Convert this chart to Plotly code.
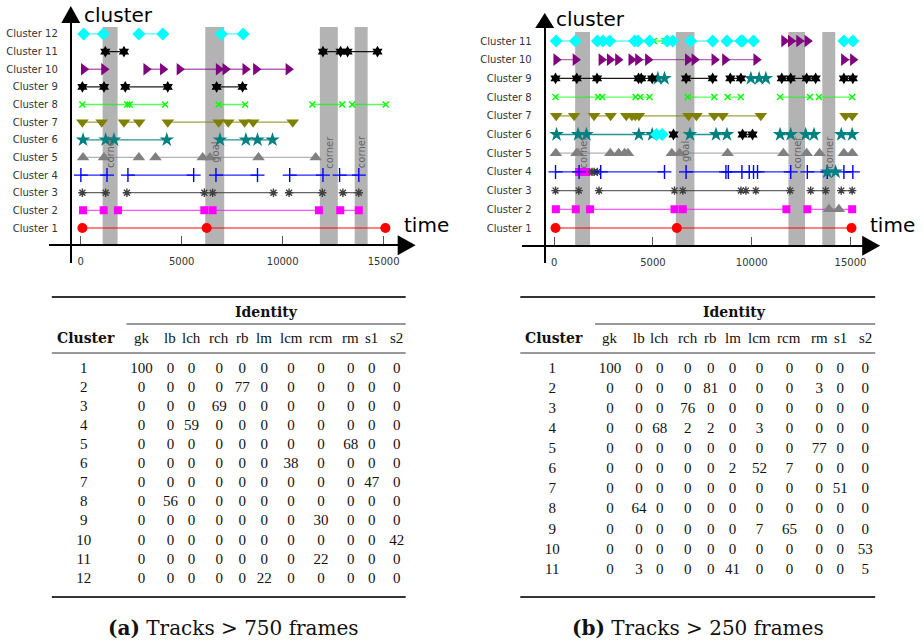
import plotly.graph_objects as go

W, H = 924, 644

# ------------------------------------------------------------------ data
X_TICKS = [0, 5000, 10000, 15000]
X_TICK_TEXT = ["0", "5000", "10000", "15000"]
CLUSTER_LABELS_A = [f"Cluster {i}" for i in range(1, 13)]
CLUSTER_LABELS_B = [f"Cluster {i}" for i in range(1, 12)]

EVENT_LABELS = ["corner", "goal", "corner", "corner"]
EVENTS_A = [(1085, 1825), (6167, 7104), (11840, 12730), (13566, 14207)]
EVENTS_B = [(1060, 1816), (6155, 7098), (11856, 12698), (13571, 14227)]

# (a) tracks > 750 frames : (identity, frames of the track's samples)
A_C1 = [("gk", [82, 6236, 15087])]
A_C2 = [("rb", [115, 1135]), ("rb", [1842, 6121]), ("rb", [6532, 11796]), ("rb", [12850, 13770])]
A_C3 = [("rch", [82, 1234]), ("rch", [2287, 6121]), ("rch", [6532, 9544]), ("rch", [10316, 11961]), ("rch", [12982, 13770])]
A_C4 = [("lch", [7, 1300]), ("lch", [2337, 5593]), ("lch", [6696, 8753]), ("lch", [10349, 11994]), ("lch", [12818, 13770])]
A_C5 = [("rm", [115, 1152, 2880]), ("rm", [3702, 6039]), ("rm", [6400, 8803, 11632])]
A_C6 = [("lcm", [115, 1234, 1645, 4260]), ("lcm", [6894, 8178, 8754, 9495])]
A_C7 = [("s1", [82, 1037]), ("s1", [2140, 2896]), ("s1", [4310, 6828]), ("s1", [7305, 8112]), ("s1", [8540, 10497])]
A_C8 = [("lb", [82, 2304]), ("lb", [2419, 4178]), ("lb", [6828, 8145]), ("lb", [11467, 12948]), ("lb", [13441, 15104])]
A_C9 = [("rcm", [82, 1152]), ("rcm", [2205, 4310]), ("rcm", [6729, 8013])]
A_C10 = [("s2", [148, 1152]), ("s2", [3241, 4063]), ("s2", [4887, 6828]), ("s2", [7157, 8145]), ("s2", [8672, 10283])]
A_C11 = [("rcm", [1218, 2140]), ("rcm", [11994, 12868]), ("rcm", [13214, 14694])]
A_C12 = [("lm", [148, 1120]), ("lm", [2880, 4063]), ("lm", [6960, 8046])]

# (b) tracks > 250 frames
B_C1 = [("gk", [67, 6206, 15050])]
B_C2 = [("rb", [84, 1093]), ("rb", [1816, 6089]), ("rb", [6510, 11754]), ("rb", [12814, 15084]), ("rm", [13907, 14412])]
B_C3 = [("rch", [67, 1244]), ("rch", [2270, 6089]), ("rch", [6510, 9451, 9703, 10207, 11939]), ("rch", [12982, 13739]), ("rch", [14530, 15084])]
B_C4 = [("lch", [67, 1261]), ("rb", [1261, 1463, 1631]), ("rch", [1917, 2018, 2185]), ("lch", [2355, 5583]),
        ("lch", [6676, 8693, 8812, 9502, 9872, 10090, 10292, 11973]), ("lch", [12814, 13823]),
        ("lcm", [13823, 14244]), ("lch", [14664, 15118])]
B_C5 = [("rm", [84, 1126]), ("rm", [1210, 2842, 3262, 3565, 3733]), ("rm", [5954, 6348, 8778, 11603]),
        ("rm", [12780]), ("rm", [13436]), ("rm", [14664, 15084])]
B_C6 = [("lcm", [117, 1210, 1631, 4288, 4961]), ("lm", [5179, 5466]), ("rcm", [6038]), ("lcm", [6870, 8189, 8745]),
        ("rcm", [9535, 10039]), ("lcm", [11435, 11973]), ("lcm", [12730, 13150]), ("lcm", [14530, 15084])]
B_C7 = [("s1", [101, 1009]), ("s1", [2018, 2859]), ("s1", [3649, 3935, 4103]), ("s1", [4288, 6800, 7200, 8105, 8525, 10459]),
        ("s1", [14748, 15084])]
B_C8 = [("lb", [67, 2220]), ("lb", [2422, 4120]), ("lb", [4355, 4827]), ("lb", [6760, 8105]), ("lb", [8778, 9451]),
        ("lb", [11435, 12948]), ("lb", [13402, 15084])]
B_C9 = [("rcm", [67, 1143, 2169, 4271, 4406, 4961]), ("lcm", [5247, 5583]), ("rcm", [6676, 8021]), ("rcm", [8914, 9451]),
        ("lcm", [9955, 10375, 10712]), ("rcm", [11519, 11973, 12780, 13234]), ("rcm", [14664, 15118])]
B_C10 = [("s2", [101, 1076]), ("s2", [2388, 2808, 3228]), ("s2", [3901, 4238, 4742, 6760, 7096, 8105]),
         ("s2", [8642, 10224]), ("s2", [14664, 15118])]
B_C11 = [("lm", [101, 1076]), ("lm", [2185, 2472, 2808, 4070, 4238, 4827]), ("lb", [5045, 5583]), ("lm", [5717, 6005]),
         ("lm", [6910, 8021]), ("lm", [8745, 9451, 9535, 10090]), ("s2", [11637, 11973, 12394, 12814]), ("lm", [14664, 15118])]

ROWS_A = [A_C1, A_C2, A_C3, A_C4, A_C5, A_C6, A_C7, A_C8, A_C9, A_C10, A_C11, A_C12]
ROWS_B = [B_C1, B_C2, B_C3, B_C4, B_C5, B_C6, B_C7, B_C8, B_C9, B_C10, B_C11]

# tables
IDENTITIES = ["gk", "lb", "lch", "rch", "rb", "lm", "lcm", "rcm", "rm", "s1", "s2"]
TABLE_A = [
    [100, 0, 0, 0, 0, 0, 0, 0, 0, 0, 0],
    [0, 0, 0, 0, 77, 0, 0, 0, 0, 0, 0],
    [0, 0, 0, 69, 0, 0, 0, 0, 0, 0, 0],
    [0, 0, 59, 0, 0, 0, 0, 0, 0, 0, 0],
    [0, 0, 0, 0, 0, 0, 0, 0, 68, 0, 0],
    [0, 0, 0, 0, 0, 0, 38, 0, 0, 0, 0],
    [0, 0, 0, 0, 0, 0, 0, 0, 0, 47, 0],
    [0, 56, 0, 0, 0, 0, 0, 0, 0, 0, 0],
    [0, 0, 0, 0, 0, 0, 0, 30, 0, 0, 0],
    [0, 0, 0, 0, 0, 0, 0, 0, 0, 0, 42],
    [0, 0, 0, 0, 0, 0, 0, 22, 0, 0, 0],
    [0, 0, 0, 0, 0, 22, 0, 0, 0, 0, 0],
]
TABLE_B = [
    [100, 0, 0, 0, 0, 0, 0, 0, 0, 0, 0],
    [0, 0, 0, 0, 81, 0, 0, 0, 3, 0, 0],
    [0, 0, 0, 76, 0, 0, 0, 0, 0, 0, 0],
    [0, 0, 68, 2, 2, 0, 3, 0, 0, 0, 0],
    [0, 0, 0, 0, 0, 0, 0, 0, 77, 0, 0],
    [0, 0, 0, 0, 0, 2, 52, 7, 0, 0, 0],
    [0, 0, 0, 0, 0, 0, 0, 0, 0, 51, 0],
    [0, 64, 0, 0, 0, 0, 0, 0, 0, 0, 0],
    [0, 0, 0, 0, 0, 0, 7, 65, 0, 0, 0],
    [0, 0, 0, 0, 0, 0, 0, 0, 0, 0, 53],
    [0, 3, 0, 0, 0, 41, 0, 0, 0, 0, 5],
]
CAPTIONS = ["<b>(a)</b> Tracks > 750 frames", "<b>(b)</b> Tracks > 250 frames"]

# ------------------------------------------------------------------ styles
STYLE = {
    "gk": ("circle", "#ff0000", 10, "rgba(255,0,0,0.65)"),
    "rb": ("square", "#ff00ff", 8, "rgba(255,0,255,0.65)"),
    "rch": ("asterisk-open", "#404040", 7, "rgba(64,64,64,0.8)"),
    "lch": ("cross-thin-open", "#0000ff", 10, "rgba(0,0,255,0.85)"),
    "rm": ("triangle-up", "#808080", 11, "rgba(128,128,128,0.6)"),
    "lcm": ("star", "#008080", 11, "rgba(0,128,128,0.85)"),
    "s1": ("triangle-down", "#808000", 11, "rgba(128,128,0,0.75)"),
    "lb": ("x-thin-open", "#00ff00", 6, "rgba(0,255,0,0.65)"),
    "rcm": ("hexagram", "#000000", 9, "rgba(0,0,0,0.9)"),
    "s2": ("triangle-right", "#800080", 11, "rgba(128,0,128,0.6)"),
    "lm": ("diamond", "#00ffff", 10, "rgba(0,255,255,0.65)"),
}
DRAW_ORDER = ["gk", "rb", "rch", "lch", "rm", "lcm", "s1", "lb", "rcm", "s2", "lm"]
SANS = "DejaVu Sans"


def px(x):
    return x / W


def py(y):
    return 1 - y / H


def note(x, y, text, font, **kw):
    d = dict(x=px(x), y=py(y), xref="paper", yref="paper", text=text, showarrow=False,
             xanchor="center", yanchor="middle", font=font)
    d.update(kw)
    return d


fig = go.Figure()


def add_chart(rows, xa, ya):
    per = {}
    for ci, tracks in enumerate(rows, start=1):
        for ident, frames in tracks:
            xs, ys = per.setdefault(ident, ([], []))
            xs.extend(list(frames) + [None])
            ys.extend([ci] * len(frames) + [None])
    for ident in DRAW_ORDER:
        if ident not in per:
            continue
        sym, col, size, lcol = STYLE[ident]
        is_open = sym.endswith("open")
        fig.add_trace(go.Scatter(
            x=per[ident][0], y=per[ident][1], mode="lines+markers",
            xaxis=xa, yaxis=ya, showlegend=False, hoverinfo="skip",
            line=dict(color=lcol, width=1.3),
            marker=dict(symbol=sym, size=size, color=col,
                        line=dict(color=col, width=1.4 if is_open else 0)),
        ))


add_chart(ROWS_A, "x", "y")
add_chart(ROWS_B, "x2", "y2")

# chart geometry (pixel anchors)
CH = {
    "a": dict(x0px=81, pxper=101.3 / 5000, xl=49, xr=400, yaxpx=71, xaxpy=245.3,
              c1py=228, dy=17.64, ytop=23, ybot=263, bandtop=27, arrow_tip=417, yarrow=6),
    "b": dict(x0px=556, pxper=99.1 / 5000, xl=524, xr=866, yaxpx=546.5, xaxpy=245.7,
              c1py=228, dy=18.7, ytop=28, ybot=263, bandtop=32, arrow_tip=883, yarrow=13),
}

shapes, annotations = [], []
layout_axes = {}
for key, xa, ya, labels, events in [("a", "x", "y", CLUSTER_LABELS_A, EVENTS_A),
                                    ("b", "x2", "y2", CLUSTER_LABELS_B, EVENTS_B)]:
    g = CH[key]
    d = lambda p: (p - g["x0px"]) / g["pxper"]
    c = lambda p: 1 + (g["c1py"] - p) / g["dy"]
    xname = "xaxis" if xa == "x" else "xaxis2"
    yname = "yaxis" if ya == "y" else "yaxis2"
    layout_axes[xname] = dict(
        domain=[px(g["xl"]), px(g["xr"])], range=[d(g["xl"]), d(g["xr"])],
        anchor="free", position=py(g["xaxpy"]), showline=True, linecolor="black", linewidth=2,
        ticks="inside", ticklen=8, tickwidth=1, tickcolor="#555", tickvals=X_TICKS, ticktext=X_TICK_TEXT,
        showgrid=False, zeroline=False, fixedrange=True, ticklabelstandoff=7,
        tickfont=dict(family=SANS, size=10, color="#333"))
    layout_axes[yname] = dict(
        domain=[py(g["ybot"]), py(g["ytop"])], range=[c(g["ybot"]), c(g["ytop"])],
        anchor="free", position=px(g["yaxpx"]), showline=True, linecolor="black", linewidth=2,
        ticks="", tickvals=list(range(1, len(labels) + 1)), ticktext=labels,
        showgrid=False, zeroline=False, fixedrange=True, ticklabelstandoff=10,
        tickfont=dict(family=SANS, size=10, color="#333"))
    # event bands
    for (e0, e1), lab in zip(events, EVENT_LABELS):
        shapes.append(dict(type="rect", xref=xa, yref="paper", x0=e0, x1=e1,
                           y0=py(g["xaxpy"]), y1=py(g["bandtop"]),
                           fillcolor="#b3b3b3", line=dict(width=0), layer="below"))
        annotations.append(dict(x=(e0 + e1) / 2, y=py(152), xref=xa, yref="paper",
                                xanchor="center", yanchor="middle",
                                text=lab, textangle=-90, showarrow=False,
                                font=dict(family=SANS, size=10, color="#666")))
    # arrowheads
    t, b = g["arrow_tip"], g["xr"] - 1
    yy = g["xaxpy"]
    shapes.append(dict(type="path", xref="paper", yref="paper",
                       path=f"M {px(t)},{py(yy)} L {px(b)},{py(yy - 10)} L {px(b)},{py(yy + 10)} Z",
                       fillcolor="black", line=dict(width=0)))
    xx = g["yaxpx"]
    shapes.append(dict(type="path", xref="paper", yref="paper",
                       path=f"M {px(xx)},{py(g['yarrow'])} L {px(xx - 9.5)},{py(g['ytop'])} L {px(xx + 9.5)},{py(g['ytop'])} Z",
                       fillcolor="black", line=dict(width=0)))

BIG = dict(family=SANS, size=20, color="black")
annotations += [
    note(119, 15, "cluster", BIG),
    note(428, 225, "time", BIG),
    note(592, 19, "cluster", BIG),
    note(895, 225, "time", BIG),
]

# ------------------------------------------------------------------ tables
SERIF = "Liberation Serif"
BOLD_SERIF = "DejaVu Serif"
COL_X = [84, 142, 171, 192, 220, 243, 265, 292, 322, 352, 373, 398]  # cluster col + identity cols (table a)
TABLE_SHIFT = {"a": 0, "b": 470}
TABLE_ROWS = {"a": (369, 19.09), "b": (369, 20.1)}
RULE_X = {"a": (52, 407), "b": (522, 878)}
REG = dict(family=SERIF, size=15, color="#111")
BOLD = dict(family=BOLD_SERIF, size=14, color="#111")

for key, ya, table in [("a", "y3", TABLE_A), ("b", "y4", TABLE_B)]:
    sh = TABLE_SHIFT[key]
    r1, rh = TABLE_ROWS[key]
    rtop = 1 - r1 / rh
    layout_axes["yaxis3" if ya == "y3" else "yaxis4"] = dict(
        domain=[0, 1], range=[rtop + H / rh, rtop], visible=False, fixedrange=True, anchor="x3")
    xs, ys, ts = [], [], []
    for ri, row in enumerate(table, start=1):
        xs.append(COL_X[0] + sh); ys.append(ri); ts.append(str(ri))
        for ci, v in enumerate(row):
            xs.append(COL_X[ci + 1] + sh); ys.append(ri); ts.append(str(v))
    fig.add_trace(go.Scatter(x=xs, y=ys, text=ts, mode="text", xaxis="x3", yaxis=ya,
                             textposition="middle center", showlegend=False, hoverinfo="skip",
                             textfont=REG))
    # headers
    for ci, name in enumerate(IDENTITIES):
        annotations.append(note(COL_X[ci + 1] + sh, 338, name, REG))
    annotations.append(note(COL_X[0] + sh + 2, 338, "<b>Cluster</b>", BOLD))
    annotations.append(note(267 + sh, 312, "<b>Identity</b>", BOLD))
    x0, x1 = RULE_X[key]
    for yv, lw, xs0 in [(297, 2, x0), (324, 1, 127 + sh), (353, 1.2, x0), (597, 2, x0)]:
        shapes.append(dict(type="line", xref="paper", yref="paper", x0=px(xs0), x1=px(x1),
                           y0=py(yv), y1=py(yv), line=dict(color="#333", width=lw)))

layout_axes["xaxis3"] = dict(domain=[0, 1], range=[0, W], visible=False, fixedrange=True, anchor="y3")

for cx, cap in zip([234, 700], CAPTIONS):
    annotations.append(note(cx, 628, cap, dict(family=BOLD_SERIF, size=20, color="#111")))

fig.update_layout(
    width=W, height=H, margin=dict(l=0, r=0, t=0, b=0), autosize=False,
    paper_bgcolor="white", plot_bgcolor="rgba(0,0,0,0)",
    shapes=shapes, annotations=annotations, showlegend=False, **layout_axes)

fig.write_html("out.html", config={"displayModeBar": False},
               post_script="document.body.style.margin='0';document.body.style.overflow='hidden';")
